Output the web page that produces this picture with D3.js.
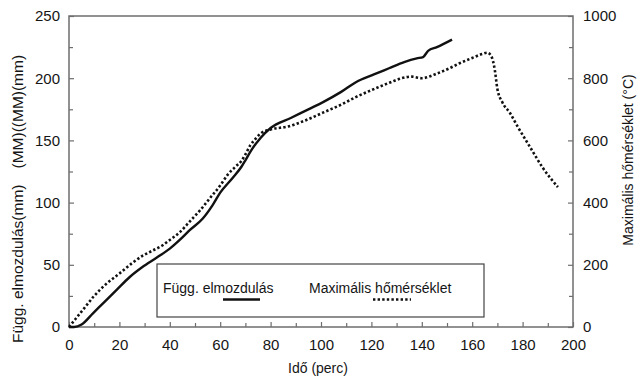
<!DOCTYPE html>
<html>
<head>
<meta charset="utf-8">
<script src="https://cdn.jsdelivr.net/npm/d3@7"></script>
<style>
  body { margin: 0; background: #fff; }
  svg { display: block; font-family: "Liberation Sans", Arial, sans-serif; }
</style>
</head>
<body>
<div id="chart"></div>
<script>
// elmozdulás (mm) vs idő (perc)
var timeDisp = [0, 2, 5, 9.5, 14, 19, 24, 29, 35, 40, 45, 48, 53, 57, 60, 65, 68.5, 70, 72, 76, 80, 88, 95, 101, 108, 114, 121, 127, 133, 138, 140.5, 142.5, 146, 152];
var disp = [0, 0, 2, 11, 20, 30, 40, 48, 56, 63, 72, 78, 87, 98, 108, 120, 129, 134, 141, 152, 160, 168, 175, 181, 189, 197, 203, 208, 213, 216, 217, 222, 225, 231];

// maximális hőmérséklet (°C) vs idő (perc)
var timeTemp = [0, 2, 6, 10, 15, 20, 25, 29, 33, 37, 40, 44, 48, 52, 56, 60, 63, 66, 68.5, 70, 72, 74, 76, 80, 87, 94, 101, 108, 114, 121, 127, 132, 136, 140, 146, 151, 155, 160, 164, 166, 167.5, 169, 170, 172, 175, 178, 183, 188, 194];
var temp = [0, 20, 60, 100, 140, 172, 205, 228, 245, 262, 280, 305, 340, 375, 415, 455, 490, 515, 535, 555, 585, 605, 622, 635, 645, 665, 690, 715, 740, 765, 785, 800, 805, 800, 815, 832, 848, 865, 878, 882, 872, 825, 765, 722, 688, 645, 578, 512, 450];

var xTicks = [0, 20, 40, 60, 80, 100, 120, 140, 160, 180, 200];
var yLeftTicks = [0, 50, 100, 150, 200, 250];
var yRightTicks = [0, 200, 400, 600, 800, 1000];

var legendLabels = ["Függ. elmozdulás", "Maximális hőmérséklet"];

var W = 638, H = 376;
var m = {top: 16, right: 65, bottom: 49, left: 69};
var axisColor = "#6e6e6e";
var textColor = "#151515";

var svg = d3.select("#chart").append("svg")
  .attr("width", W)
  .attr("height", H);

var x = d3.scaleLinear().domain([0, 200]).range([m.left, W - m.right]);
var yL = d3.scaleLinear().domain([0, 250]).range([H - m.bottom, m.top]);
var yR = d3.scaleLinear().domain([0, 1000]).range([H - m.bottom, m.top]);

// keret
svg.append("rect")
  .attr("x", m.left)
  .attr("y", m.top)
  .attr("width", W - m.left - m.right)
  .attr("height", H - m.top - m.bottom)
  .attr("fill", "none")
  .attr("stroke", axisColor)
  .attr("stroke-width", 1.5);

function styleAxis(g, fs) {
  g.select(".domain").remove();
  g.selectAll(".tick line").attr("stroke", axisColor).attr("stroke-width", 1.2);
  g.selectAll(".tick text").attr("fill", textColor).style("font-size", fs + "px");
}

// minor ticks
svg.append("g")
  .attr("transform", "translate(0," + (H - m.bottom) + ")")
  .call(d3.axisBottom(x).tickValues(d3.range(10, 200, 20)).tickSize(-4).tickFormat(""))
  .call(g => styleAxis(g, 15));
svg.append("g")
  .attr("transform", "translate(" + m.left + ",0)")
  .call(d3.axisLeft(yL).tickValues(d3.range(25, 250, 50)).tickSize(-4).tickFormat(""))
  .call(g => styleAxis(g, 15));
svg.append("g")
  .attr("transform", "translate(" + (W - m.right) + ",0)")
  .call(d3.axisRight(yR).tickValues(d3.range(100, 1000, 200)).tickSize(-4).tickFormat(""))
  .call(g => styleAxis(g, 15));

// major ticks + labels
svg.append("g")
  .attr("transform", "translate(0," + (H - m.bottom) + ")")
  .call(d3.axisBottom(x).tickValues(xTicks).tickSizeInner(-5).tickPadding(12).tickFormat(d3.format("d")))
  .call(g => styleAxis(g, 15));
svg.append("g")
  .attr("transform", "translate(" + m.left + ",0)")
  .call(d3.axisLeft(yL).tickValues(yLeftTicks).tickSizeInner(-5).tickPadding(9).tickFormat(d3.format("d")))
  .call(g => styleAxis(g, 15));
svg.append("g")
  .attr("transform", "translate(" + (W - m.right) + ",0)")
  .call(d3.axisRight(yR).tickValues(yRightTicks).tickSizeInner(-5).tickPadding(10).tickFormat(d3.format("d")))
  .call(g => styleAxis(g, 15));

// görbék
var lineDisp = d3.line()
  .x((d, i) => x(timeDisp[i]))
  .y(d => yL(d))
  .curve(d3.curveMonotoneX);

var lineTemp = d3.line()
  .x((d, i) => x(timeTemp[i]))
  .y(d => yR(d))
  .curve(d3.curveMonotoneX);

svg.append("path")
  .datum(temp)
  .attr("d", lineTemp)
  .attr("fill", "none")
  .attr("stroke", "#111")
  .attr("stroke-width", 2.6)
  .attr("stroke-dasharray", "2.4,2.2");

svg.append("path")
  .datum(disp)
  .attr("d", lineDisp)
  .attr("fill", "none")
  .attr("stroke", "#111")
  .attr("stroke-width", 2.4);

// jelmagyarázat
var lg = svg.append("g");
lg.append("rect")
  .attr("x", 157).attr("y", 264)
  .attr("width", 327).attr("height", 53)
  .attr("fill", "#fff")
  .attr("stroke", "#444")
  .attr("stroke-width", 1.2);

lg.append("text")
  .attr("x", 163).attr("y", 293)
  .attr("fill", textColor)
  .style("font-size", "14px")
  .text(legendLabels[0]);
lg.append("line")
  .attr("x1", 223).attr("x2", 260)
  .attr("y1", 299.5).attr("y2", 299.5)
  .attr("stroke", "#111").attr("stroke-width", 2.4);

lg.append("text")
  .attr("x", 309).attr("y", 293)
  .attr("fill", textColor)
  .style("font-size", "14px")
  .text(legendLabels[1]);
lg.append("line")
  .attr("x1", 373).attr("x2", 411)
  .attr("y1", 299.5).attr("y2", 299.5)
  .attr("stroke", "#111").attr("stroke-width", 2.4)
  .attr("stroke-dasharray", "2.4,2.2");

// tengelyfeliratok
svg.append("text")
  .attr("x", (m.left + W - m.right) / 2 - 3)
  .attr("y", 373)
  .attr("text-anchor", "middle")
  .attr("fill", textColor)
  .style("font-size", "14px")
  .text("Idő (perc)");

var yl = svg.append("text")
  .attr("transform", "translate(23,343) rotate(-90)")
  .attr("fill", textColor)
  .style("font-size", "15.5px");
yl.append("tspan").text("Függ. elmozdulás(mm)");
yl.append("tspan").attr("dx", 16).text("(MM)((MM)(mm)");

svg.append("text")
  .attr("transform", "translate(633,160) rotate(-90)")
  .attr("text-anchor", "middle")
  .attr("fill", textColor)
  .style("font-size", "14px")
  .text("Maximális hőmérséklet (°C)");
</script>
</body>
</html>
